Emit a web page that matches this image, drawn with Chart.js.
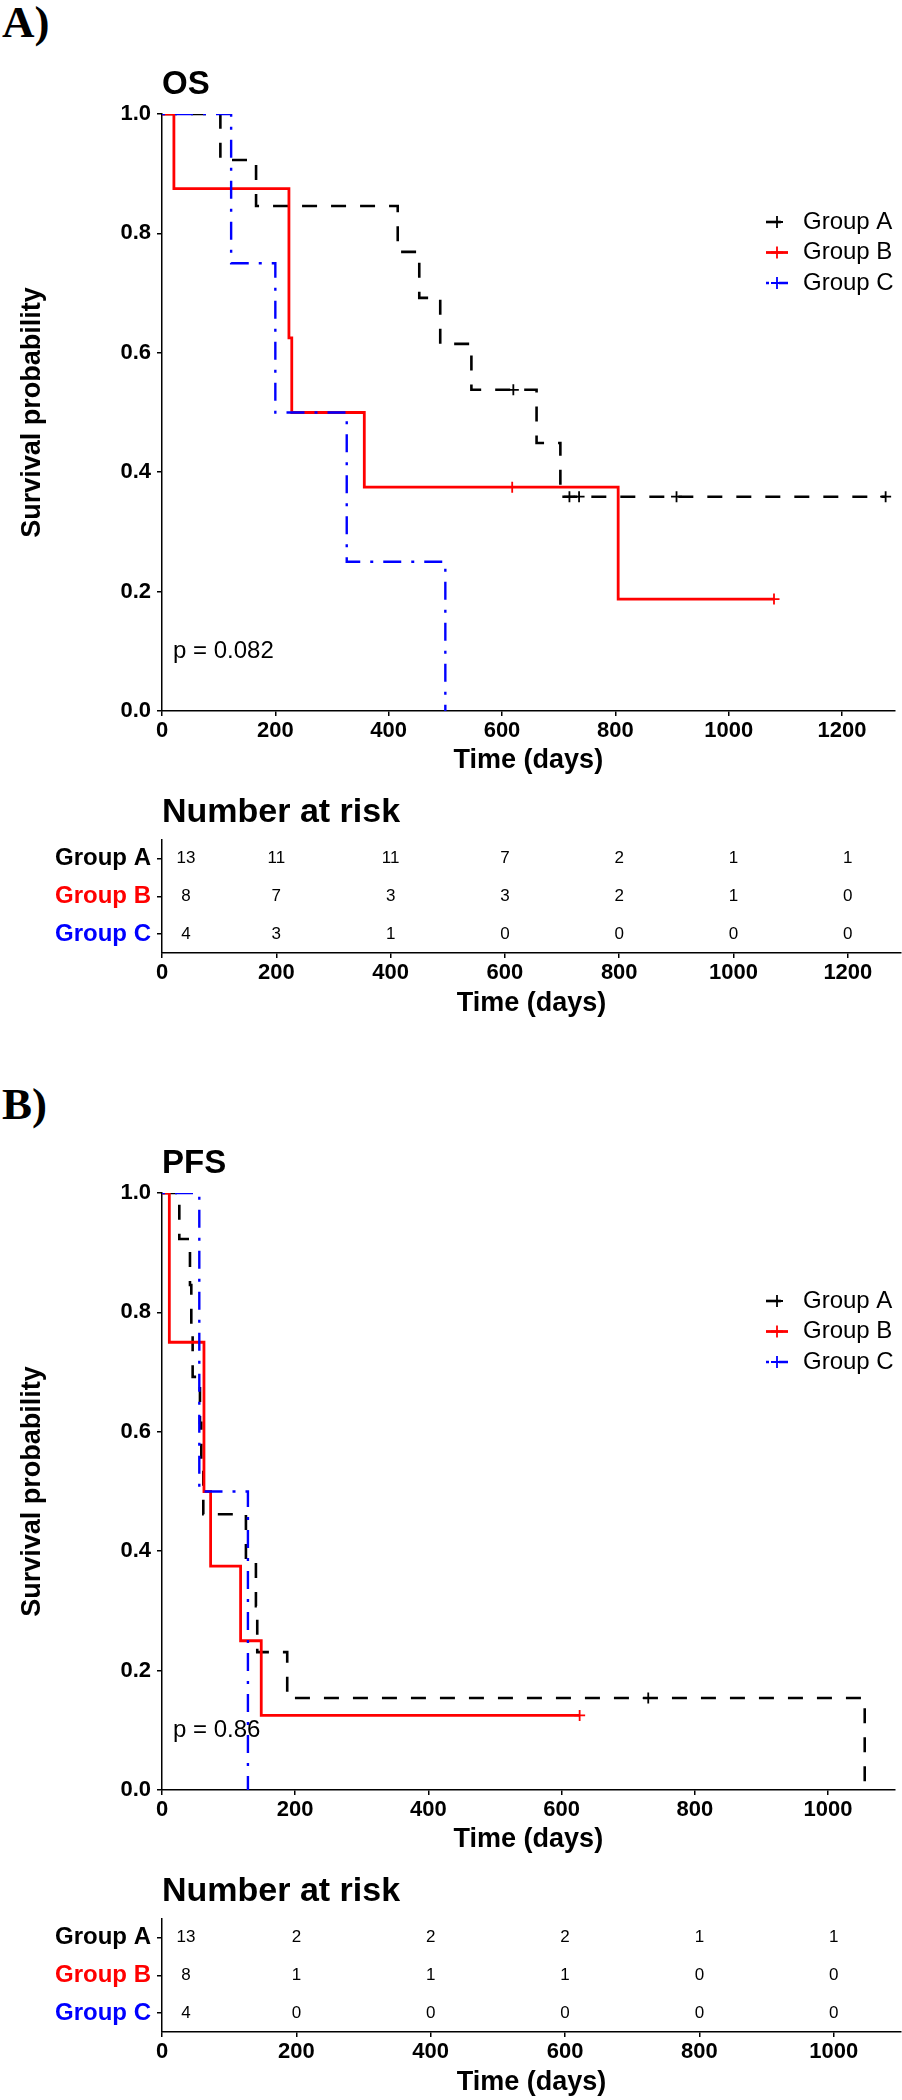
<!DOCTYPE html>
<html>
<head>
<meta charset="utf-8">
<script src="https://cdn.jsdelivr.net/npm/chart.js@4.4.1/dist/chart.umd.min.js"></script>
<style>
  html, body { margin: 0; padding: 0; background: #fff; }
  body { width: 902px; height: 2100px; position: relative; overflow: hidden; }
  .tag { position: absolute; left: 2px; font: bold 45px 'Liberation Serif', 'Times New Roman', serif; line-height: 1; color: #000; }
  canvas { position: absolute; left: 0; }
</style>
</head>
<body>
<div class="tag" style="top:0px">A)</div>
<canvas id="osCurve" width="902" height="780" style="top:0px"></canvas>
<canvas id="osRisk" width="902" height="240" style="top:780px"></canvas>
<div class="tag" style="top:1082px">B)</div>
<canvas id="pfsCurve" width="902" height="780" style="top:1079px"></canvas>
<canvas id="pfsRisk" width="902" height="240" style="top:1859px"></canvas>
<script>
const FONT = "'Liberation Sans', Arial, Helvetica, sans-serif";
Chart.defaults.font.family = FONT;
Chart.defaults.color = '#000';

const groups = ['Group A', 'Group B', 'Group C'];
const groupColors = ['#000000', '#ff0000', '#0000ff'];

// OS: step times (days) and survival after each step
const osTimeA = [0, 103, 166, 416, 454, 491, 546, 661, 703, 1277];
const osSurvA = [1, 0.923, 0.846, 0.769, 0.692, 0.615, 0.538, 0.449, 0.359, 0.359];
const osTimeB = [0, 21, 224, 229, 357, 805, 1080];
const osSurvB = [1, 0.875, 0.625, 0.5, 0.375, 0.1875, 0.1875];
const osTimeC = [0, 122, 200, 326, 500];
const osSurvC = [1, 0.75, 0.5, 0.25, 0];
// OS: censored observations
const osCensTimeA = [620, 719, 736, 908, 1277];
const osCensSurvA = [0.538, 0.359, 0.359, 0.359, 0.359];
const osCensTimeB = [618, 1080];
const osCensSurvB = [0.375, 0.1875];
const osCensTimeC = [];
const osCensSurvC = [];

// PFS
const pfsTimeA = [0, 26, 42, 44, 46, 57, 59, 62, 126, 141, 143, 188, 1055];
const pfsSurvA = [1, 0.923, 0.846, 0.769, 0.692, 0.615, 0.538, 0.462, 0.385, 0.308, 0.231, 0.154, 0];
const pfsTimeB = [0, 11, 63, 73, 118, 149, 627];
const pfsSurvB = [1, 0.75, 0.5, 0.375, 0.25, 0.125, 0.125];
const pfsTimeC = [0, 56, 129];
const pfsSurvC = [1, 0.5, 0];
const pfsCensTimeA = [730];
const pfsCensSurvA = [0.154];
const pfsCensTimeB = [627];
const pfsCensSurvB = [0.125];
const pfsCensTimeC = [];
const pfsCensSurvC = [];

// number at risk
const osXTicks = [0, 200, 400, 600, 800, 1000, 1200];
const riskOsA = [13, 11, 11, 7, 2, 1, 1];
const riskOsB = [8, 7, 3, 3, 2, 1, 0];
const riskOsC = [4, 3, 1, 0, 0, 0, 0];
const pfsXTicks = [0, 200, 400, 600, 800, 1000];
const riskPfsA = [13, 2, 2, 2, 1, 1];
const riskPfsB = [8, 1, 1, 1, 0, 0];
const riskPfsC = [4, 0, 0, 0, 0, 0];

const yTicks = [0, 0.2, 0.4, 0.6, 0.8, 1.0];
const osMaxDays = 1293;
const pfsMaxDays = 1100;
const pOS = 'p = 0.082';
const pPFS = 'p = 0.86';

const lineDash = [[15, 14], [], [3, 10, 18, 10]];
const lineWidth = [2.6, 2.8, 2.4];

const kmLegend = {
  id: 'kmLegend',
  afterDraw(chart, args, opts) {
    const { ctx, chartArea } = chart;
    const x0 = chartArea.left + opts.x;
    ctx.save();
    ctx.font = '24px ' + FONT;
    ctx.textBaseline = 'middle';
    ctx.textAlign = 'left';
    chart.data.datasets.filter(d => d.kmCurve).forEach((ds, i) => {
      const y = chartArea.top + opts.y + i * opts.spacing;
      ctx.strokeStyle = ds.borderColor;
      ctx.lineWidth = ds.borderWidth;
      ctx.setLineDash(ds.borderDash);
      ctx.beginPath();
      ctx.moveTo(x0, y);
      ctx.lineTo(x0 + 22, y);
      ctx.stroke();
      ctx.setLineDash([]);
      ctx.lineWidth = 1.8;
      ctx.beginPath();
      ctx.moveTo(x0 + 11, y - 6);
      ctx.lineTo(x0 + 11, y + 6);
      ctx.moveTo(x0 + 5, y);
      ctx.lineTo(x0 + 17, y);
      ctx.stroke();
      ctx.fillStyle = '#000';
      ctx.fillText(ds.label, x0 + 37, y);
    });
    ctx.restore();
  }
};

const pLabel = {
  id: 'pLabel',
  beforeDatasetsDraw(chart, args, opts) {
    const { ctx, chartArea, scales } = chart;
    ctx.save();
    ctx.font = '24px ' + FONT;
    ctx.fillStyle = '#000';
    ctx.textBaseline = 'middle';
    ctx.fillText(opts.text, chartArea.left + 11, scales.y.getPixelForValue(opts.at));
    ctx.restore();
  }
};

const riskCounts = {
  id: 'riskCounts',
  afterDatasetsDraw(chart, args, opts) {
    const { ctx } = chart;
    ctx.save();
    ctx.font = '17px ' + FONT;
    ctx.fillStyle = '#000';
    ctx.textAlign = 'center';
    ctx.textBaseline = 'middle';
    chart.data.datasets.forEach((ds, i) => {
      chart.getDatasetMeta(i).data.forEach((pt, j) => {
        const shift = ds.data[j].x === 0 ? opts.firstShift : 0;
        ctx.fillText(String(ds.counts[j]), pt.x + shift, pt.y);
      });
    });
    ctx.restore();
  }
};

function axisStyle() {
  return {
    grid: { drawOnChartArea: false, tickLength: 5, color: '#000', lineWidth: 1.5 },
    border: { color: '#000', width: 1.5 }
  };
}

function xAxis(p, height) {
  return Object.assign(axisStyle(), {
    type: 'linear',
    min: 0,
    max: p.xMax,
    afterBuildTicks: s => { s.ticks = p.xTicks.map(v => ({ value: v })); },
    ticks: { font: { size: 22, weight: 'bold' }, padding: 2, maxRotation: 0, callback: v => String(v) },
    title: { display: true, text: 'Time (days)', font: { size: 27, weight: 'bold' }, padding: { top: 0, bottom: 0 } },
    afterFit: s => { s.height = height; }
  });
}

function buildPanel(p) {
  const datasets = [];
  groups.forEach((g, i) => {
    datasets.push({
      label: g,
      kmCurve: true,
      data: p.times[i].map((t, j) => ({ x: t, y: p.surv[i][j] })),
      borderColor: groupColors[i],
      borderWidth: lineWidth[i],
      borderDash: lineDash[i],
      stepped: 'before',
      pointRadius: 0,
      fill: false,
      order: 3 - i
    });
    datasets.push({
      label: g + ' censored',
      data: p.censTime[i].map((t, j) => ({ x: t, y: p.censSurv[i][j] })),
      showLine: false,
      pointStyle: 'cross',
      pointRadius: 5.5,
      pointBorderWidth: 1.8,
      pointBorderColor: groupColors[i],
      borderColor: groupColors[i],
      order: 3 - i
    });
  });

  new Chart(document.getElementById(p.curveId), {
    type: 'line',
    data: { datasets },
    plugins: [kmLegend, pLabel],
    options: {
      responsive: false,
      animation: false,
      devicePixelRatio: 1,
      events: [],
      layout: { padding: { top: 65, right: 1, bottom: 3, left: 0 } },
      scales: {
        x: xAxis(p, 66),
        y: Object.assign(axisStyle(), {
          min: 0,
          max: 1,
          afterBuildTicks: s => { s.ticks = yTicks.map(v => ({ value: v })); },
          ticks: { font: { size: 22, weight: 'bold' }, padding: 6, callback: v => v.toFixed(1) },
          title: { display: true, text: 'Survival probability', font: { size: 27, weight: 'bold' }, padding: { top: 16 } },
          afterFit: s => { s.width = 162; }
        })
      },
      plugins: {
        legend: { display: false },
        tooltip: { enabled: false },
        title: {
          display: true, text: p.title, align: 'start', fullSize: false,
          font: { size: 33, weight: 'bold' }, padding: { top: 0, bottom: 9.4 }
        },
        kmLegend: { x: 604, y: 108, spacing: 30.5 },
        pLabel: { text: p.pText, at: 0.1 }
      }
    }
  });

  new Chart(document.getElementById(p.riskId), {
    type: 'scatter',
    data: {
      datasets: groups.map((g, i) => ({
        label: g,
        data: p.xTicks.map(t => ({ x: t, y: g })),
        counts: p.risk[i],
        pointRadius: 0
      }))
    },
    plugins: [riskCounts],
    options: {
      responsive: false,
      animation: false,
      devicePixelRatio: 1,
      events: [],
      layout: { padding: { top: 12, right: 1, bottom: 0, left: 0 } },
      scales: {
        x: xAxis(p, 67),
        y: Object.assign(axisStyle(), {
          type: 'category',
          labels: groups,
          offset: true,
          ticks: { color: c => groupColors[c.index], font: { size: 24, weight: 'bold' }, padding: 6 },
          afterFit: s => { s.width = 162; }
        })
      },
      plugins: {
        legend: { display: false },
        tooltip: { enabled: false },
        title: {
          display: true, text: 'Number at risk', align: 'start', fullSize: false,
          font: { size: 34, weight: 'bold' }, padding: { top: 0, bottom: 7 }
        },
        riskCounts: { firstShift: 24 }
      }
    }
  });
}

buildPanel({
  curveId: 'osCurve', riskId: 'osRisk', title: 'OS', pText: pOS,
  xMax: osMaxDays, xTicks: osXTicks,
  times: [osTimeA, osTimeB, osTimeC], surv: [osSurvA, osSurvB, osSurvC],
  censTime: [osCensTimeA, osCensTimeB, osCensTimeC], censSurv: [osCensSurvA, osCensSurvB, osCensSurvC],
  risk: [riskOsA, riskOsB, riskOsC]
});

buildPanel({
  curveId: 'pfsCurve', riskId: 'pfsRisk', title: 'PFS', pText: pPFS,
  xMax: pfsMaxDays, xTicks: pfsXTicks,
  times: [pfsTimeA, pfsTimeB, pfsTimeC], surv: [pfsSurvA, pfsSurvB, pfsSurvC],
  censTime: [pfsCensTimeA, pfsCensTimeB, pfsCensTimeC], censSurv: [pfsCensSurvA, pfsCensSurvB, pfsCensSurvC],
  risk: [riskPfsA, riskPfsB, riskPfsC]
});
</script>
</body>
</html>
